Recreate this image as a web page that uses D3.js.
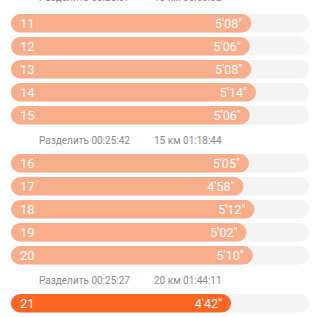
<!DOCTYPE html>
<html>
<head>
<meta charset="utf-8">
<script src="https://cdn.jsdelivr.net/npm/d3@7"></script>
<style>
  html, body { margin: 0; padding: 0; background: #fff; }
  svg { display: block; font-family: Roboto, "Noto Sans", sans-serif; }
</style>
</head>
<body>
<div id="chart"></div>
<script>
// km splits (pace per km in seconds)
const kms = [11, 12, 13, 14, 15, 16, 17, 18, 19, 20, 21];
const paceSec = [308, 306, 308, 314, 306, 305, 298, 312, 302, 310, 282];
const paceLabels = ["5'08\"", "5'06\"", "5'08\"", "5'14\"", "5'06\"", "5'05\"", "4'58\"", "5'12\"", "5'02\"", "5'10\"", "4'42\""];
// separator rows shown after these km
const splitAfter = [10, 15, 20];
const splitTimes = ["00:25:37", "00:25:42", "00:25:27"];
const totalTimes = ["00:53:02", "01:18:44", "01:44:11"];

const width = 317, height = 317;
const left = 11, right = 309;
const barH = 18.5, pitch = 23, sepH = 25;

const svg = d3.select("#chart").append("svg")
    .attr("width", width)
    .attr("height", height);

const x = d3.scaleLinear()
    .domain([0, 382])
    .range([left, right]);

// build layout rows
let rows = [];
let y = -14;
rows.push({ type: "split", i: 0, y: y });
y += 28;
kms.forEach((k, i) => {
    rows.push({ type: "bar", i: i, y: y });
    y += pitch;
    const s = splitAfter.indexOf(k);
    if (s >= 0) {
        rows.push({ type: "split", i: s, y: y });
        y += sepH;
    }
});

const barRows = rows.filter(r => r.type === "bar");
const splitRows = rows.filter(r => r.type === "split");

// background tracks
svg.selectAll(".track")
    .data(barRows)
    .enter()
    .append("rect")
    .attr("class", "track")
    .attr("x", x(0))
    .attr("y", d => d.y)
    .attr("width", x.range()[1] - x(0))
    .attr("height", barH)
    .attr("rx", barH / 2)
    .style("fill", "#f4f4f4");

// pace bars
svg.selectAll(".bar")
    .data(barRows)
    .enter()
    .append("rect")
    .attr("class", "bar")
    .attr("x", x(0))
    .attr("y", d => d.y)
    .attr("width", d => x(paceSec[d.i]) - x(0))
    .attr("height", barH)
    .attr("rx", barH / 2)
    .style("fill", d => d.i === kms.length - 1 ? "#fd6622" : "#f8ae8b");

// km number
svg.selectAll(".km")
    .data(barRows)
    .enter()
    .append("text")
    .attr("class", "km")
    .attr("x", 20)
    .attr("y", d => d.y + barH / 2)
    .attr("dy", "0.36em")
    .style("fill", "#fff")
    .style("font-size", "13px")
    .text(d => kms[d.i]);

// pace value
svg.selectAll(".pace")
    .data(barRows)
    .enter()
    .append("text")
    .attr("class", "pace")
    .attr("x", d => x(paceSec[d.i]) - 9)
    .attr("y", d => d.y + barH / 2)
    .attr("dy", "0.36em")
    .style("text-anchor", "end")
    .style("fill", "#fff")
    .style("font-size", "12.5px")
    .text(d => paceLabels[d.i]);

// split separators
svg.selectAll(".split")
    .data(splitRows)
    .enter()
    .append("text")
    .attr("class", "split")
    .attr("x", 39)
    .attr("y", d => d.y + 11)
    .attr("dy", "0.35em")
    .style("fill", "#8a8a8a")
    .style("font-size", "10px")
    .text(d => "Разделить " + splitTimes[d.i]);

svg.selectAll(".total")
    .data(splitRows)
    .enter()
    .append("text")
    .attr("class", "total")
    .attr("x", 154)
    .attr("y", d => d.y + 11)
    .attr("dy", "0.35em")
    .style("fill", "#8a8a8a")
    .style("font-size", "10px")
    .text(d => splitAfter[d.i] + " км " + totalTimes[d.i]);
</script>
</body>
</html>
